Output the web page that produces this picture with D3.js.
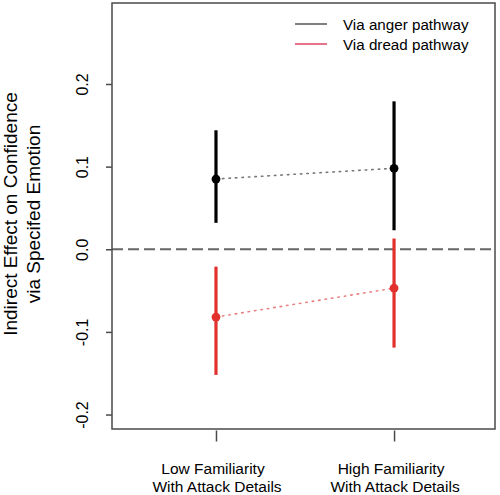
<!DOCTYPE html>
<html>
<head>
<meta charset="utf-8">
<script src="https://cdn.jsdelivr.net/npm/d3@7"></script>
<style>
  html, body { margin: 0; padding: 0; background: #fff; }
  text { font-family: "Liberation Sans", Arial, sans-serif; }
</style>
</head>
<body>
<svg id="chart" width="500" height="495"></svg>
<script>
// ---- data ----
const categories = ["Low Familiarity|With Attack Details", "High Familiarity|With Attack Details"];
const categoryPos = [1, 2];
const angerEst = [0.085, 0.098];
const angerLo  = [0.032, 0.023];
const angerHi  = [0.144, 0.179];
const dreadEst = [-0.082, -0.047];
const dreadLo  = [-0.152, -0.119];
const dreadHi  = [-0.021, 0.013];
const yTicks = [-0.2, -0.1, 0.0, 0.1, 0.2];
const seriesNames = ["Via anger pathway", "Via dread pathway"];
const yTitle = ["Indirect Effect on Confidence", "via Specifed Emotion"];

// ---- layout ----
const svg = d3.select("#chart");
const L = 112, R = 495, T = 3, B = 429;
const x = d3.scaleLinear().domain([0.416, 2.567]).range([L, R]);
const y = d3.scaleLinear().domain([-0.2175, 0.298]).range([B, T]);
const fmt = d3.formatLocale({decimal: ".", thousands: ",", grouping: [3], currency: ["", ""], minus: "-"}).format(".1f");

const series = [
  {name: seriesNames[0], est: angerEst, lo: angerLo, hi: angerHi, color: "#000000", dot: "#777777", legend: "#555555"},
  {name: seriesNames[1], est: dreadEst, lo: dreadLo, hi: dreadHi, color: "#e2302c", dot: "#e98080", legend: "#e04560"}
];

// zero reference line
svg.append("line")
  .attr("x1", L).attr("x2", R)
  .attr("y1", y(0)).attr("y2", y(0))
  .attr("stroke", "#666").attr("stroke-width", 2)
  .attr("stroke-dasharray", "11,5");

// series
series.forEach(s => {
  const pts = categoryPos.map((c, i) => ({x: c, est: s.est[i], lo: s.lo[i], hi: s.hi[i]}));
  svg.append("path")
    .datum(pts)
    .attr("d", d3.line().x(d => x(d.x)).y(d => y(d.est)))
    .attr("fill", "none")
    .attr("stroke", s.dot).attr("stroke-width", 1.6)
    .attr("stroke-dasharray", "1.5,5").attr("stroke-linecap", "round");
  svg.selectAll(null).data(pts).enter().append("line")
    .attr("x1", d => x(d.x)).attr("x2", d => x(d.x))
    .attr("y1", d => y(d.lo)).attr("y2", d => y(d.hi))
    .attr("stroke", s.color).attr("stroke-width", 3.2);
  svg.selectAll(null).data(pts).enter().append("circle")
    .attr("cx", d => x(d.x)).attr("cy", d => y(d.est))
    .attr("r", 4.4).attr("fill", s.color);
});

// plot box
svg.append("rect")
  .attr("x", L).attr("y", T).attr("width", R - L).attr("height", B - T)
  .attr("fill", "none").attr("stroke", "#4a4a4a").attr("stroke-width", 1.5);

// y axis
const yAxis = svg.append("g")
  .attr("transform", `translate(${L},0)`)
  .call(d3.axisLeft(y).tickValues(yTicks).tickFormat(fmt).tickSize(6).tickSizeOuter(0));
yAxis.select(".domain").remove();
yAxis.selectAll(".tick line").attr("stroke", "#4a4a4a").attr("stroke-width", 1.5);
yAxis.selectAll(".tick text")
  .attr("x", null).attr("dy", null)
  .attr("transform", "translate(-24,0) rotate(-90)")
  .attr("text-anchor", "middle")
  .attr("font-size", 16).attr("fill", "#000")
  .attr("font-family", "Liberation Sans, Arial, sans-serif");

// x axis
const xAxis = svg.append("g")
  .attr("transform", `translate(0,${B + 1.5})`)
  .call(d3.axisBottom(x).tickValues(categoryPos).tickFormat("").tickSize(11).tickSizeOuter(0));
xAxis.select(".domain").remove();
xAxis.selectAll(".tick line").attr("stroke", "#4a4a4a").attr("stroke-width", 1.5);
categoryPos.forEach((c, i) => {
  const lines = categories[i].split("|");
  lines.forEach((ln, j) => {
    svg.append("text")
      .attr("x", x(c) + (j === 0 ? -3 : 1)).attr("y", 474 + j * 18)
      .attr("text-anchor", "middle").attr("font-size", 15.5)
      .attr("fill", "#000").text(ln);
  });
});

// y title
yTitle.forEach((t, j) => {
  svg.append("text")
    .attr("transform", `translate(${17 + j * 23},${214}) rotate(-90)`)
    .attr("text-anchor", "middle").attr("font-size", 19)
    .attr("fill", "#000").text(t);
});

// legend
series.forEach((s, i) => {
  const ly = 24 + i * 20;
  svg.append("line")
    .attr("x1", 295).attr("x2", 327).attr("y1", ly).attr("y2", ly)
    .attr("stroke", s.legend).attr("stroke-width", 1.5);
  svg.append("text")
    .attr("x", 343).attr("y", ly + 5.5)
    .attr("font-size", 15.2).attr("fill", "#000").text(s.name);
});
</script>
</body>
</html>
